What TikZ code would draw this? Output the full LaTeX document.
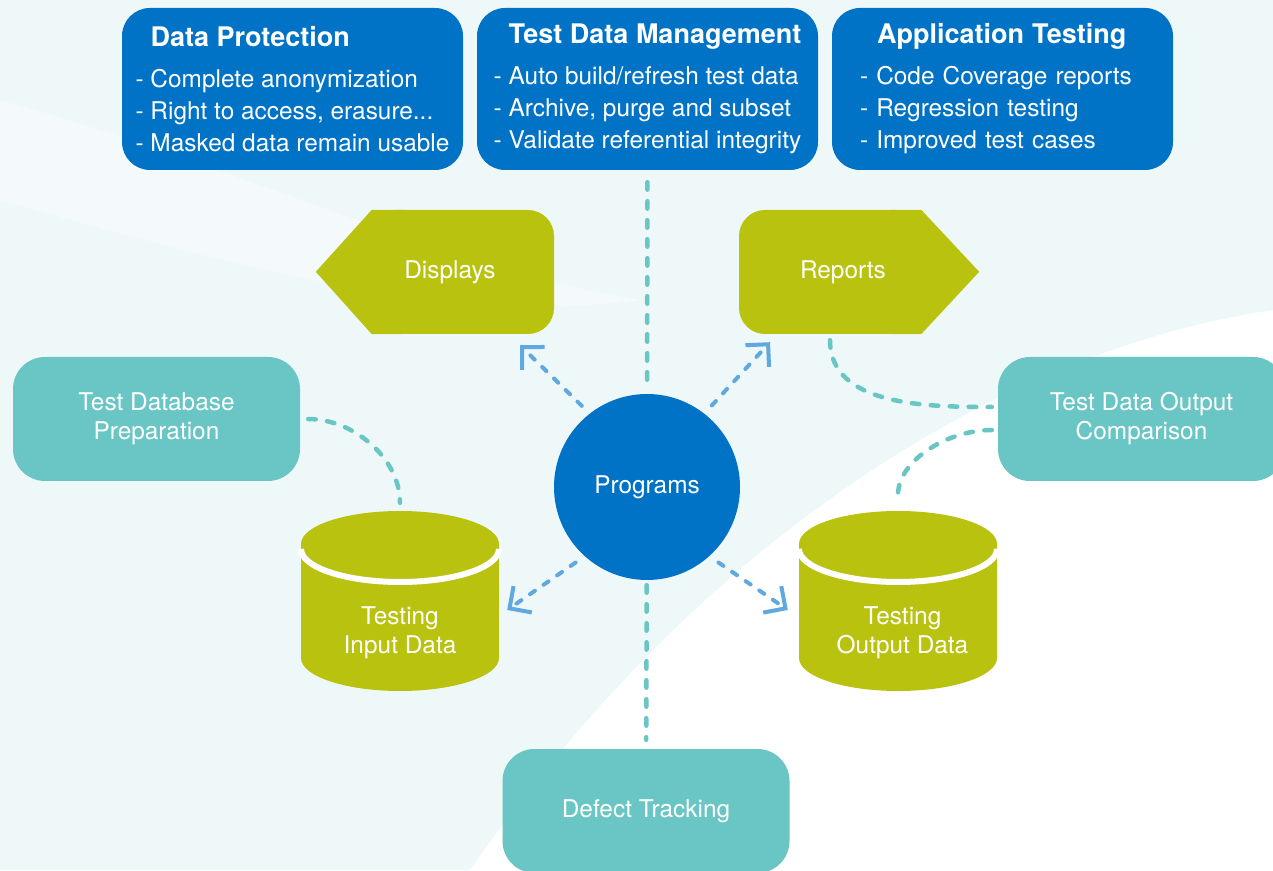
\documentclass[tikz,border=0pt]{standalone}
\usepackage{fontspec}
\setmainfont{TeX Gyre Heros}
\usepackage{color}
\usetikzlibrary{shapes.geometric, arrows.meta}
\definecolor{progblue}{RGB}{0,115,198}
\definecolor{limefill}{RGB}{185,194,15}
\definecolor{tealfill}{RGB}{105,198,196}
\definecolor{arrowblue}{RGB}{95,168,224}
\definecolor{bgcyan}{RGB}{239,248,249}
\tikzstyle{topbox} = [rectangle, rounded corners=28pt, minimum width=341pt,
minimum height=162pt, fill=progblue, text=white, align=left, inner sep=0pt,
font=\fontsize{24.4}{32}\selectfont]
\tikzstyle{greenbox} = [rectangle, rounded corners=26pt, minimum width=182pt,
minimum height=124pt, fill=limefill, text=white, font=\fontsize{24.4}{29}\selectfont]
\tikzstyle{tealbox} = [rectangle, rounded corners=32pt, minimum width=287pt,
minimum height=124pt, fill=tealfill, text=white, align=center,
font=\fontsize{24.4}{29}\selectfont]
\tikzstyle{hub} = [circle, minimum size=186pt, fill=progblue, text=white,
font=\fontsize{24.4}{29}\selectfont]
\tikzstyle{dbtext} = [rectangle, minimum width=198pt, inner sep=0pt,
text height=142.5pt, text depth=37.5pt, align=center, text=white,
font=\fontsize{24.4}{29}\selectfont]
\tikzstyle{link} = [draw=tealfill, line width=4.5pt, line cap=round,
dash pattern=on 7.5pt off 11.5pt]
\tikzstyle{arrow} = [draw=arrowblue, line width=4pt, line cap=round,
dash pattern=on 6pt off 10.5pt, ->, >={Straight Barb[length=16pt,width=32pt]}]

\begin{document}
\begin{tikzpicture}[x=1pt, y=1pt]

\useasboundingbox (0,0) rectangle (1273,870);
\fill[white] (0,0) rectangle (1273,870);
\fill[bgcyan] (0,0) -- (0,870) -- (1273,870) -- (1273,560) .. controls (1000,520) and (700,330) .. (470,0) -- cycle;
\fill[white, opacity=0.35] (0,770) .. controls (250,700) and (450,600) .. (640,570) .. controls (450,545) and (250,600) .. (0,670) -- cycle;

\node(dp)[topbox] at (292.5,781) {\hspace*{15pt}{\fontsize{27}{32}\selectfont\bfseries Data Protection}\\[9pt]- Complete anonymization\\- Right to access, erasure...\\- Masked data remain usable};
\node(tdm)[topbox] at (647.5,781) {\hspace*{15pt}{\fontsize{27}{32}\selectfont\bfseries Test Data Management}\\[9pt]- Auto build/refresh test data\\- Archive, purge and subset\\- Validate referential integrity};
\node(apt)[topbox, text width=285pt, inner xsep=28pt] at (1002.5,781) {\hspace*{17pt}{\fontsize{27}{32}\selectfont\bfseries Application Testing}\\[9pt]- Code Coverage reports\\- Regression testing\\- Improved test cases};

\node(disp)[greenbox] at (463,598) {\hspace*{-26pt}Displays};
\fill[limefill] (disp.north west) -- ++(-56,-62) -- (disp.south west) -- ++(30,0) -- ([xshift=30pt]disp.north west) -- cycle;
\node(rep)[greenbox] at (830,598) {\hspace*{26pt}Reports};
\fill[limefill] (rep.north east) -- ++(58,-62) -- (rep.south east) -- ++(-30,0) -- ([xshift=-30pt]rep.north east) -- cycle;

\node(prog)[hub] at (647,383) {Programs};

\node(prep)[tealbox] at (156.5,451) {Test Database\\Preparation};
\node(cmp)[tealbox] at (1141.5,451) {Test Data Output\\Comparison};
\node(dft)[tealbox] at (646,59) {Defect Tracking};

\fill[limefill] (301,326) arc[start angle=180, end angle=0, x radius=99, y radius=33] -- (499,212) arc[start angle=0, end angle=-180, x radius=99, y radius=33] -- cycle;
\draw[white, line width=6pt] (301,321) arc[start angle=180, end angle=360, x radius=99, y radius=33];
\node(inp)[dbtext] at (400,269) {Testing\\Input Data};
\fill[limefill] (799,326) arc[start angle=180, end angle=0, x radius=99, y radius=33] -- (997,212) arc[start angle=0, end angle=-180, x radius=99, y radius=33] -- cycle;
\draw[white, line width=6pt] (799,321) arc[start angle=180, end angle=360, x radius=99, y radius=33];
\node(outp)[dbtext] at (898,269) {\hspace*{9pt}Testing\\\hspace*{9pt}Output Data};

\draw[link, shorten <=12pt, shorten >=4pt](tdm) -- (prog);
\draw[link, shorten <=5pt, shorten >=9pt](prog) -- (dft);
\draw[link, shorten <=8pt, shorten >=8pt](prep.east) to[out=0, in=90] (inp.north);
\draw[link, shorten <=6pt, shorten >=6pt](rep.south) to[out=-90, in=180] ([yshift=12pt]cmp.west);
\draw[link, shorten <=6pt, shorten >=16pt]([yshift=-11pt]cmp.west) to[out=180, in=90] (outp.north);

\draw[arrow, shorten <=11pt](prog.128) -- ([xshift=57pt,yshift=-11pt]disp.south);
\draw[arrow, shorten <=11pt](prog.52) -- ([xshift=-60pt,yshift=-8pt]rep.south);
\draw[arrow, shorten <=11pt](prog.228) -- ([xshift=8pt,yshift=-9pt]inp.east);
\draw[arrow, shorten <=11pt](prog.312) -- ([xshift=-11pt,yshift=-9pt]outp.west);

\end{tikzpicture}
\end{document}
